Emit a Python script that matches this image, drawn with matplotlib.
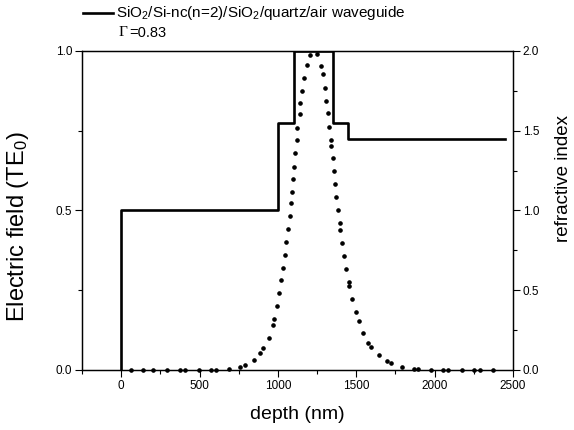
import matplotlib
matplotlib.use("Agg")
import matplotlib.pyplot as plt
from matplotlib.lines import Line2D
from matplotlib.ticker import MultipleLocator

plt.rcParams['font.family'] = ['Liberation Sans', 'DejaVu Sans']
plt.rcParams['mathtext.default'] = 'regular'

# refractive index profile (step edges and values)
index_depth = [0, 0, 1000, 1100, 1350, 1450, 2450]
index_value = [0.0, 1.0, 1.55, 2.0, 1.55, 1.45, 1.45]

# electric field TE0
field_depth = [62, 142, 206, 292, 373, 409, 494, 575, 607, 685, 755, 787, 845, 888, 902,
               941, 966, 977, 992, 1007, 1022, 1033, 1045, 1054, 1064, 1075, 1083, 1090,
               1096, 1105, 1111, 1120, 1122, 1139, 1143, 1156, 1168, 1186, 1202, 1249,
               1275, 1288, 1298, 1309, 1317, 1328, 1336, 1341, 1349, 1356, 1365, 1373,
               1381, 1394, 1398, 1411, 1422, 1437, 1451, 1456, 1475, 1496, 1515, 1543,
               1575, 1594, 1643, 1697, 1724, 1792, 1867, 1895, 1978, 2056, 2088, 2172,
               2250, 2288, 2373]
field_value = [0.0, 0.0, 0.0, 0.0, 0.0, 0.0, 0.0, 0.0, 0.0, 0.003, 0.010, 0.016, 0.030, 0.054, 0.070,
               0.101, 0.141, 0.160, 0.201, 0.242, 0.282, 0.319, 0.360, 0.400, 0.442, 0.483, 0.524, 0.559,
               0.598, 0.637, 0.679, 0.721, 0.760, 0.803, 0.836, 0.875, 0.916, 0.956, 0.987, 0.990,
               0.953, 0.927, 0.885, 0.844, 0.807, 0.763, 0.721, 0.702, 0.664, 0.624, 0.582, 0.543,
               0.503, 0.460, 0.439, 0.399, 0.357, 0.316, 0.277, 0.263, 0.224, 0.182, 0.153, 0.117,
               0.086, 0.073, 0.048, 0.028, 0.021, 0.010, 0.004, 0.003, 0.001, 0.0, 0.0, 0.0,
               0.0, 0.0, 0.0]

x_ticks = [0, 500, 1000, 1500, 2000, 2500]
left_ticks = [0.0, 0.5, 1.0]
right_ticks = [0.0, 0.5, 1.0, 1.5, 2.0]

fig = plt.figure(figsize=(5.74, 4.30), dpi=100)
ax = fig.add_axes([82/574, 1-370/430, (513-82)/574, (370-51)/430])
ax2 = ax.twinx()

ax.plot(field_depth, field_value, linestyle='none', marker='o', markersize=2.3,
        color='black', clip_on=False)
ax2.step(index_depth, index_value, where='post', color='black', linewidth=1.9)

ax.set_xlim(-250, 2500)
ax.set_ylim(0, 1.0)
ax2.set_ylim(0, 2.0)

ax.set_xticks(x_ticks)
ax.set_xticklabels([str(v) for v in x_ticks])
ax.xaxis.set_minor_locator(MultipleLocator(250))
ax.set_yticks(left_ticks)
ax.set_yticklabels([f"{v:.1f}" for v in left_ticks])
ax.yaxis.set_minor_locator(MultipleLocator(0.25))
ax2.set_yticks(right_ticks)
ax2.set_yticklabels([f"{v:.1f}" for v in right_ticks])
ax2.yaxis.set_minor_locator(MultipleLocator(0.25))

for a in (ax, ax2):
    a.tick_params(which='major', direction='out', length=5, width=0.8, labelsize=8.5, pad=2)
    a.tick_params(which='minor', direction='out', length=3, width=0.8)
    for s in a.spines.values():
        s.set_linewidth(0.9)

ax.set_xlabel('depth (nm)', fontsize=14, va='center', ha='center')
ax.xaxis.set_label_coords(0.5, -0.141)
ax.set_ylabel('Electric field (TE$_0$)', fontsize=17, va='center', ha='center')
ax.yaxis.set_label_coords(-0.148, 0.45)
ax2.set_ylabel('refractive index', fontsize=13.5, va='center', ha='center')
ax2.yaxis.set_label_coords(1.118, 0.60)

# legend-like header
fig.add_artist(Line2D([83/574, 113/574], [1-13/430, 1-13/430], color='black', linewidth=1.9))
fig.text(116/574, 1-13/430, 'SiO$_2$/Si-nc(n=2)/SiO$_2$/quartz/air waveguide',
         fontsize=11, va='center', ha='left')
fig.text(119/574, 1-33/430, '\u0393', fontsize=11, va='center', ha='left',
         family='Liberation Serif')
fig.text(129/574, 1-33/430, '=0.83', fontsize=10.5, va='center', ha='left')

fig.savefig('out.png', dpi=100)
